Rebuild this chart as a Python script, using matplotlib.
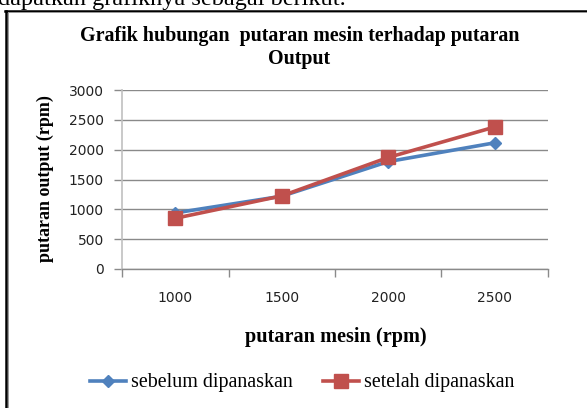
import matplotlib
matplotlib.use("Agg")
import matplotlib.pyplot as plt
from matplotlib.lines import Line2D

categories = ["1000", "1500", "2000", "2500"]
sebelum = [940, 1220, 1800, 2115]
setelah = [850, 1225, 1870, 2380]
yticks = [0, 500, 1000, 1500, 2000, 2500, 3000]

W, H = 587, 408
fig = plt.figure(figsize=(W / 100, H / 100), dpi=100)

def fx(px):
    return px / W

def fy(py):
    return 1 - py / H

serif = "Liberation Serif"

# frame of the embedded chart
fig.add_artist(Line2D([fx(6.2), fx(6.2)], [fy(10.5), fy(420)], color="black", lw=1.8, transform=fig.transFigure))
fig.add_artist(Line2D([fx(5.3), fx(600)], [fy(10.5), fy(10.5)], color="black", lw=1.8, transform=fig.transFigure))
fig.add_artist(Line2D([fx(8.0), fx(8.0)], [fy(12.3), fy(420)], color="#9a9a9a", lw=0.7, transform=fig.transFigure))
fig.add_artist(Line2D([fx(8.0), fx(600)], [fy(12.3), fy(12.3)], color="#9a9a9a", lw=0.7, transform=fig.transFigure))

# cut-off document text at the very top
fig.text(fx(-2), fy(4.5), "dapatkan grafiknya sebagai berikut.", family=serif, fontsize=17.5,
         ha="left", va="baseline", color="black")

ax = fig.add_axes([fx(122), fy(269), fx(548) - fx(122), fy(90) - fy(269)])
x = list(range(len(categories)))
ax.plot(x, sebelum, color="#4F81BD", lw=2.6, marker="D", ms=6.5, mec="#4F81BD", mfc="#4F81BD",
        label="sebelum dipanaskan", zorder=3)
ax.plot(x, setelah, color="#C0504D", lw=2.6, marker="s", ms=9.5, mec="#C0504D", mfc="#C0504D",
        label="setelah dipanaskan", zorder=4)

ax.set_xlim(-0.5, len(categories) - 0.5)
ax.set_ylim(0, 3000)
ax.set_yticks(yticks)
ax.set_yticklabels([str(v) for v in yticks], fontsize=10, family="DejaVu Sans", color="#222222")
ax.yaxis.grid(True, color="#8a8a8a", lw=1.0)
ax.set_axisbelow(True)
ax.tick_params(axis="y", length=6, width=1.0, color="#8a8a8a", pad=7)

ax.set_xticks([i - 0.5 for i in range(len(categories) + 1)])
ax.set_xticklabels([])
ax.tick_params(axis="x", which="major", length=6, width=1.0, color="#8a8a8a")
ax.set_xticks(x, minor=True)
ax.set_xticklabels(categories, minor=True, fontsize=10, family="DejaVu Sans", color="#222222")
ax.tick_params(axis="x", which="minor", length=0, pad=16)

for s in ["top", "right"]:
    ax.spines[s].set_visible(False)
ax.spines["left"].set_color("#c0c0c0")
ax.spines["left"].set_linewidth(1.2)
ax.spines["bottom"].set_color("#8a8a8a")
ax.spines["bottom"].set_linewidth(1.0)

fig.text(fx(300), fy(36), "Grafik hubungan  putaran mesin terhadap putaran", family=serif,
         fontweight="bold", fontsize=14.4, ha="center", va="center")
fig.text(fx(299), fy(59), "Output", family=serif, fontweight="bold", fontsize=14.4, ha="center", va="center")
fig.text(fx(336), fy(337), "putaran mesin (rpm)", family=serif, fontweight="bold", fontsize=14.6,
         ha="center", va="center")
fig.text(fx(45), fy(179), "putaran output (rpm)", family=serif, fontweight="bold", fontsize=13,
         ha="center", va="center", rotation=90)

leg = fig.legend(loc="center", bbox_to_anchor=(fx(302), fy(383)), ncol=2, frameon=False,
                 prop={"family": serif, "size": 14.4}, handlelength=1.8, columnspacing=1.5,
                 handletextpad=0.25)

fig.savefig("out.png", dpi=100)
